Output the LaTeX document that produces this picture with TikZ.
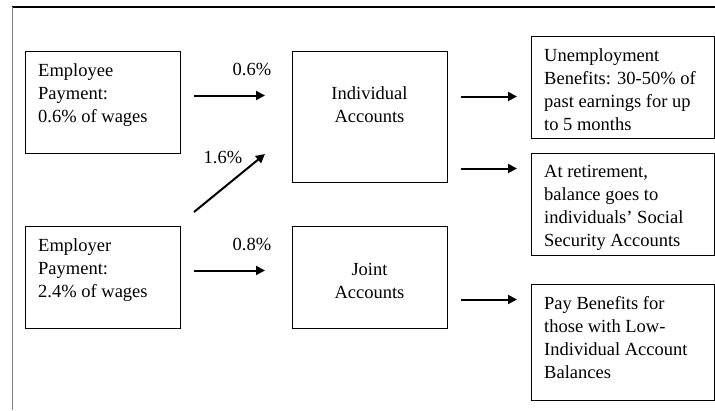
\documentclass[tikz,border=0pt]{standalone}
\usepackage{fontspec}
\setmainfont{Liberation Serif}
\usetikzlibrary{arrows.meta,calc}
\begin{document}
\begin{tikzpicture}[x=1pt,y=-1pt,
  box/.style={draw=black, line width=1pt, rectangle, inner sep=0pt, anchor=north west},
  txt/.style={inner sep=0pt, align=left, anchor=north west, font=\fontsize{18.5}{23}\selectfont},
  ctxt/.style={inner sep=0pt, align=center, anchor=north, font=\fontsize{18.5}{23}\selectfont},
  lbl/.style={inner sep=0pt, anchor=base, font=\fontsize{18.5}{23}\selectfont},
  arr/.style={line width=2pt, -{Triangle[length=9pt,width=9pt]}}]
\useasboundingbox (0,0) rectangle (715,410);
% frame
\draw[line width=1.2pt] (12,7) -- (715,7);
\draw[line width=1pt, gray] (12,7) -- (12,410);
% boxes
\node[box, minimum width=155pt, minimum height=102pt] (emp) at (25,51) {};
\node[box, minimum width=155pt, minimum height=131pt] (ind) at (292,51) {};
\node[box, minimum width=155pt, minimum height=102pt] (emr) at (25,226) {};
\node[box, minimum width=155pt, minimum height=102pt] (joint) at (292,226) {};
\node[box, minimum width=183pt, minimum height=102pt] (ben) at (531,36) {};
\node[box, minimum width=183pt, minimum height=102pt] (ret) at (531,153) {};
\node[box, minimum width=183pt, minimum height=116pt] (low) at (531,284) {};
% texts
\node[txt] (empt) at ($(emp.north west)+(13,12.4)$) {Employee\\Payment:\\0.6\% of wages};
\node[txt] (emrt) at ($(emr.north west)+(13,12.4)$) {Employer\\Payment:\\2.4\% of wages};
\node[ctxt] (indt) at (369.5,86.4) {Individual\\Accounts};
\node[ctxt] (jointt) at (369.5,262.8) {Joint\\Accounts};
\node[txt] (bent) at ($(ben.north west)+(13,12.4)$) {Unemployment\\Benefits: 30-50\% of\\past earnings for up\\to 5 months};
\node[txt] (rett) at ($(ret.north west)+(13,12.4)$) {At retirement,\\balance goes to\\individuals’ Social\\Security Accounts};
\node[txt] (lowt) at ($(low.north west)+(13,12.4)$) {Pay Benefits for\\those with Low-\\Individual Account\\Balances};
% arrows left
\coordinate (a1s) at ($(emp.east)+(13,-7)$);
\draw[arr] (a1s) -- ($(ind.west|-a1s)+(-27,0)$);
\node[lbl] (l1) at ($(a1s)+(58,-20)$) {0.6\%};
\coordinate (d1s) at ($(emr.north east)+(13,-14)$);
\draw[arr] (d1s) -- ($(ind.south west)+(-27,-29)$);
\node[lbl] (l2) at (223,163) {1.6\%};
\coordinate (a3s) at ($(emr.east)+(13,-7)$);
\draw[arr] (a3s) -- ($(joint.west|-a3s)+(-27,0)$);
\node[lbl] (l3) at ($(a3s)+(58,-20)$) {0.8\%};
% arrows right
\coordinate (r1s) at ($(ind.east)+(13,-20.5)$);
\draw[arr] (r1s) -- ($(ben.west|-r1s)+(-14,0)$);
\coordinate (r2s) at ($(ind.east)+(13,51.5)$);
\draw[arr] (r2s) -- ($(ret.west|-r2s)+(-14,0)$);
\coordinate (r3s) at ($(joint.east)+(13,22)$);
\draw[arr] (r3s) -- ($(low.west|-r3s)+(-14,0)$);
\end{tikzpicture}
\end{document}
